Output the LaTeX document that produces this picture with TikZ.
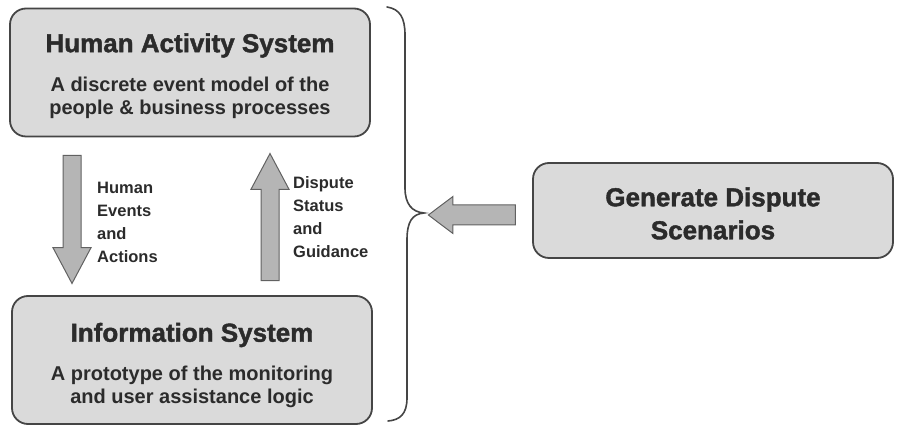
\documentclass[tikz,border=0pt]{standalone}
\usepackage{fontspec}
\setmainfont{Liberation Sans}
\newfontfamily\heavysans[BoldFeatures={FakeBold=1.6}]{Liberation Sans}
\usetikzlibrary{shapes.arrows,positioning}

\definecolor{boxfill}{HTML}{DADADA}
\definecolor{boxline}{HTML}{454545}
\definecolor{arrowfill}{HTML}{B5B5B5}
\definecolor{inktext}{HTML}{2B2B2B}

\begin{document}
\begin{tikzpicture}[
        x=1pt, y=-1pt,
        text=inktext,
        sysbox/.style={draw=boxline, rounded corners=16pt, fill=boxfill, line width=1.8pt, minimum width=360pt, minimum height=128pt},
        headtext/.style={font=\heavysans\bfseries\fontsize{26}{33}\selectfont, align=center, inner sep=0pt},
        desctext/.style={font=\bfseries\fontsize{20}{22.5}\selectfont, align=center, inner sep=0pt},
        flowlbl/.style={font=\bfseries\fontsize{16.5}{23}\selectfont, align=left, inner sep=0pt, anchor=west},
        fatarrow/.style={single arrow, draw=boxline!85, fill=arrowfill, line width=1pt, inner sep=8.5pt, minimum width=37pt, single arrow head extend=10pt, single arrow tip angle=56},
        bracket/.style={draw=boxline, line width=1.6pt, line cap=round}
    ]
        \useasboundingbox (0,0) rectangle (898,427);

        % the two systems
        \node[sysbox] (has) at (190,72.5) {};
        \node[headtext] (hastitle) at (190,45.5) {Human Activity System};
        \node[desctext] (hasdesc) at (190,98) {A discrete event model of the\\people \& business processes};

        \node[sysbox] (infosys) at (192,360) {};
        \node[headtext] (infotitle) at (192,335) {Information System};
        \node[desctext] (infodesc) at (192,387) {A prototype of the monitoring\\and user assistance logic};

        % scenario source
        \node[sysbox, minimum height=95pt] (scen) at (713,210.5) {};
        \node[headtext] (scentitle) at (713,213.5) {Generate Dispute\\Scenarios};

        % flows between the systems
        \node[fatarrow, minimum height=128pt, shape border rotate=270] (downflow) at (72,211) {};
        \node[fatarrow, minimum height=127pt, shape border rotate=90] (upflow) at (270,225.5) {};
        \node[flowlbl] (downlbl) at (97,222) {Human\\Events\\and\\Actions};
        \node[flowlbl] (uplbl) at (293,217.5) {Dispute\\Status\\and\\Guidance};

        % brace and feed arrow
        \draw[bracket] (387,7) .. controls (400,9) and (405,18) .. (405,35) -- (405,188)
            .. controls (405,204) and (412,212) .. (424,213)
            .. controls (412,214) and (407,222) .. (407,240) -- (407,398)
            .. controls (407,414) and (400,420) .. (388,421);
        \node[fatarrow, inner sep=9.5pt, minimum height=87pt, minimum width=36pt, single arrow head extend=8.5pt, single arrow tip angle=74, shape border rotate=180] (feed) at (478.5,215) {};
    \end{tikzpicture}
\end{document}
